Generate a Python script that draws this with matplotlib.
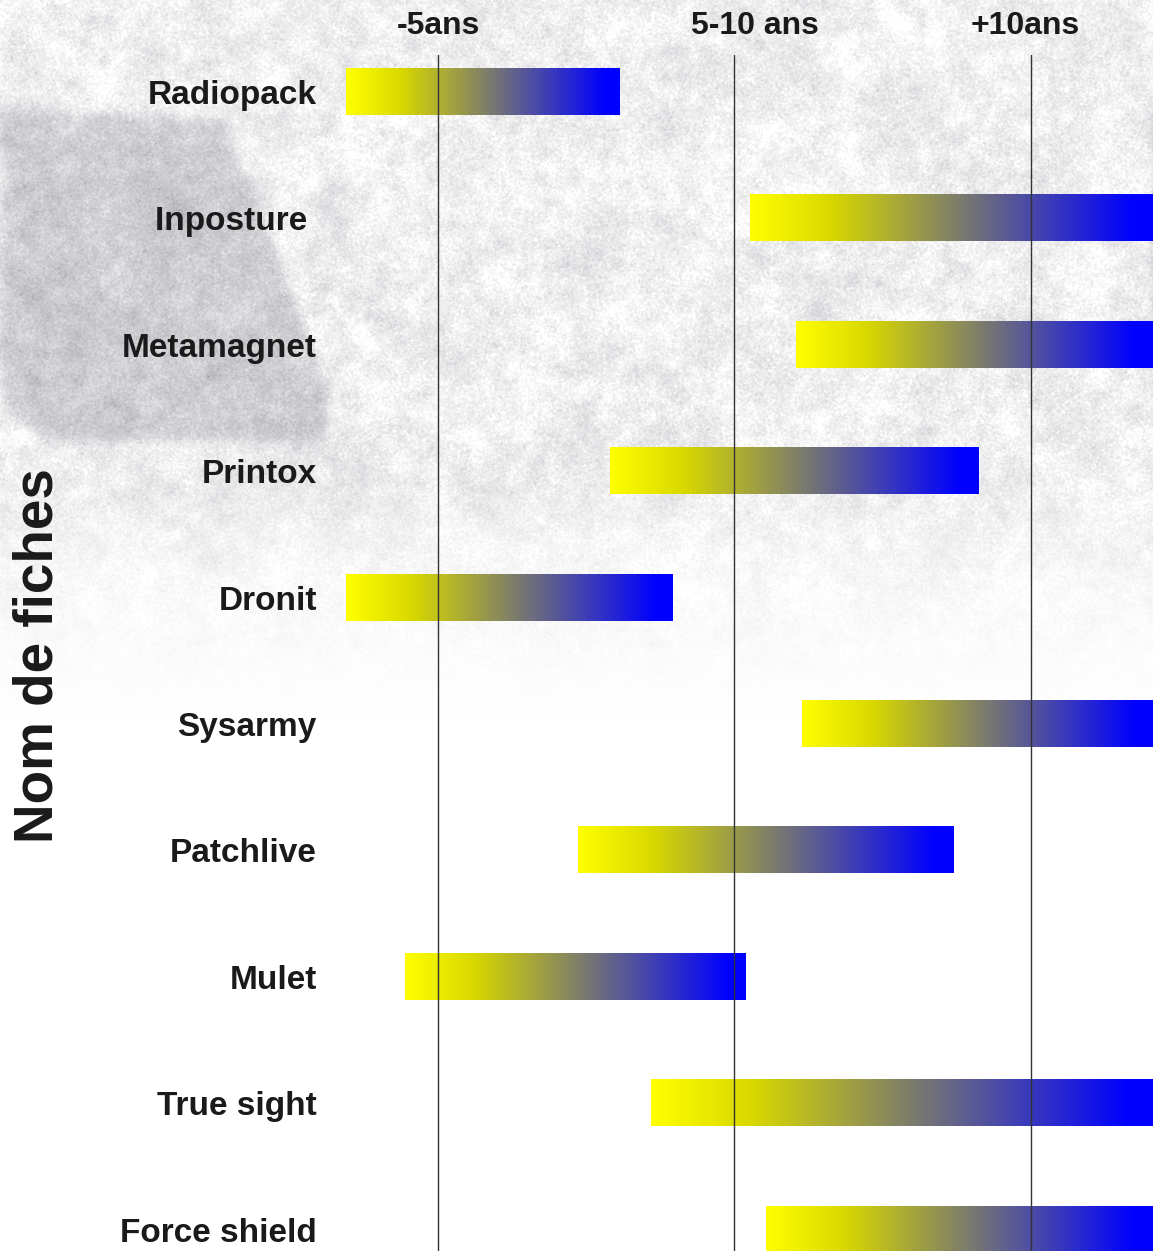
import numpy as np
import matplotlib
matplotlib.use("Agg")
import matplotlib.pyplot as plt
from matplotlib.path import Path

# ---- data ----
noms = ["Radiopack", "Inposture ", "Metamagnet", "Printox", "Dronit",
        "Sysarmy", "Patchlive", "Mulet", "True sight", "Force shield"]
debut = [3.45, 10.27, 11.04, 7.90, 3.45, 11.14, 7.36, 4.44, 8.59, 10.53]
fin = [8.06, 18.0, 18.0, 14.11, 8.95, 18.0, 13.70, 10.18, 18.0, 18.0]

seuils = [5, 10, 15]
tick_pos = [5.0, 10.35, 14.9]
tick_labels = ["-5ans", "5-10 ans", "+10ans"]

X_MIN, X_MAX = 3.449, 17.06
W, H = 1153, 1251
INK = "#1a1a1a"

plt.rcParams["font.family"] = ["Liberation Sans", "DejaVu Sans"]
plt.rcParams["font.weight"] = "bold"


def gaussian_blur(a, sigma):
    """Gaussian blur through the FFT (wraps at the edges)."""
    h, w = a.shape
    ky = np.fft.fftfreq(h)[:, None]
    kx = np.fft.rfftfreq(w)[None, :]
    kern = np.exp(-2 * (np.pi * sigma) ** 2 * (kx ** 2 + ky ** 2))
    return np.fft.irfft2(np.fft.rfft2(a) * kern, s=a.shape)


def unit_noise(rng, sigma):
    n = gaussian_blur(rng.standard_normal((H, W)), sigma)
    return n / n.std()


def make_background():
    rng = np.random.default_rng(11)
    yy, xx = np.mgrid[0:H, 0:W]

    # speckled paper texture
    d = 0.12 + 0.035 * unit_noise(rng, 5) + 0.03 * unit_noise(rng, 16) \
        + 0.05 * unit_noise(rng, 0.7)

    # grey tilted block on the left
    poly = Path([(0, 108), (222, 118), (330, 395), (322, 440),
                 (40, 440), (0, 400)])
    pts = np.column_stack([xx.ravel(), yy.ravel()])
    block = poly.contains_points(pts).reshape(H, W).astype(float)
    d += 0.28 * np.clip(gaussian_blur(block, 5), 0, 1)

    # soft grey band under the block
    band = np.exp(-((yy - 490) / 45.0) ** 2) * np.exp(-((xx - 420) / 330.0) ** 2)
    d += 0.08 * band

    # fade towards white lower down
    fade = np.clip((720 - yy) / 270.0, 0, 1) ** 1.2
    d = np.clip(d * fade, 0, 1)

    white = np.array([1.0, 1.0, 1.0])
    grey = np.array([0.52, 0.52, 0.56])
    img = white[None, None, :] * (1 - d[..., None]) + grey[None, None, :] * d[..., None]
    return np.clip(img, 0, 1)


# yellow -> dark yellow -> grey -> blue
stops = [0.0, 0.2, 0.95, 1.0]
stop_cols = np.array([[255, 255, 0], [216, 216, 0], [0, 0, 255], [0, 0, 255]]) / 255.0
t = np.linspace(0, 1, 256)
grad = np.stack([np.interp(t, stops, stop_cols[:, k]) for k in range(3)], axis=-1)[None, :, :]

fig = plt.figure(figsize=(W / 100, H / 100), dpi=100)

bg = fig.add_axes([0, 0, 1, 1], zorder=-1)
bg.imshow(make_background(), aspect="auto", interpolation="bilinear")
bg.axis("off")

ax = fig.add_axes([346 / W, 0, 1 - 346 / W, 1 - 55 / H])
ax.set_facecolor("none")

bar_h = 0.364
for i, (a, b) in enumerate(zip(debut, fin)):
    x0, x1 = max(a, X_MIN), min(b, X_MAX)
    ax.imshow(grad, extent=(x0, x1, i + bar_h / 2, i - bar_h / 2),
              aspect="auto", interpolation="bilinear", zorder=2)

for s in seuils:
    ax.axvline(s, color="#333333", lw=1.0, zorder=3)

ax.set_xlim(X_MIN, X_MAX)
ax.set_ylim(9.17, -0.293)

ax.set_yticks(range(len(noms)))
ax.set_yticklabels(noms, fontsize=24, color=INK, fontweight="bold")
ax.tick_params(axis="y", length=0, pad=21)

ax.xaxis.tick_top()
ax.set_xticks(tick_pos)
ax.set_xticklabels(tick_labels, fontsize=23, color=INK, fontweight="bold")
ax.tick_params(axis="x", length=0, pad=10)

for sp in ax.spines.values():
    sp.set_visible(False)

fig.text(39 / W, 1 - 656 / H, "Nom de fiches", rotation=90, ha="center",
         va="center", fontsize=39.5, fontweight="bold", color=INK)

fig.savefig("out.png", dpi=100)
